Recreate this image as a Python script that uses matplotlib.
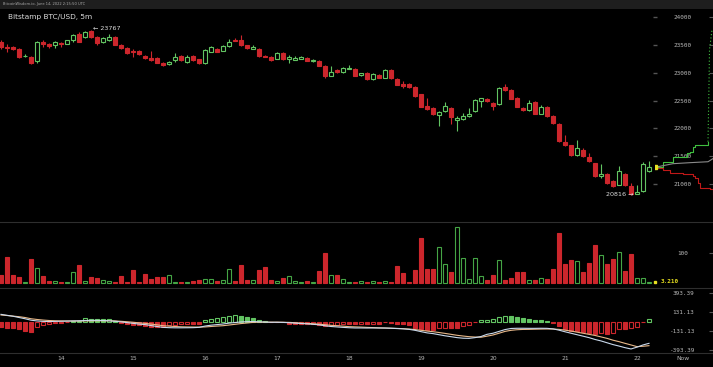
import matplotlib
matplotlib.use("Agg")
import matplotlib.pyplot as plt
import matplotlib.transforms as mtransforms
from matplotlib.patches import Rectangle
import numpy as np

# ---- data (2h candles, index 0 = leftmost) ----
opens = [23550, 23450, 23460, 23425, 23290, 23280, 23215, 23555, 23515, 23485,
         23530, 23520, 23575, 23695, 23630, 23745, 23635, 23540, 23585, 23635,
         23500, 23445, 23395, 23385, 23305, 23265, 23260, 23175, 23150, 23220,
         23300, 23195, 23300, 23235, 23175, 23375, 23425, 23395, 23480, 23590,
         23590, 23485, 23425, 23425, 23305, 23280, 23245, 23355, 23245, 23230,
         23245, 23260, 23200, 23205, 23120, 22945, 23045, 23005, 23065, 23065,
         22960, 22990, 22885, 22960, 22910, 23050, 22885, 22790, 22800, 22745,
         22615, 22400, 22370, 22240, 22310, 22370, 22150, 22170, 22220, 22310,
         22500, 22525, 22450, 22430, 22750, 22690, 22550, 22370, 22330, 22480,
         22265, 22385, 22225, 22075, 21760, 21700, 21520, 21610, 21490, 21380,
         21150, 21185, 21055, 20995, 21180, 20970, 20825, 20880, 21235]
highs = [23590, 23515, 23480, 23445, 23325, 23300, 23570, 23585, 23525, 23560,
         23545, 23585, 23695, 23735, 23750, 23767, 23650, 23630, 23690, 23650,
         23515, 23450, 23425, 23400, 23320, 23390, 23275, 23190, 23210, 23350,
         23310, 23310, 23318, 23245, 23415, 23480, 23445, 23495, 23605, 23615,
         23675, 23500, 23490, 23435, 23320, 23290, 23360, 23365, 23310, 23290,
         23290, 23275, 23245, 23220, 23140, 23120, 23060, 23095, 23140, 23075,
         22995, 23005, 22985, 22970, 23065, 23060, 22905, 22850, 22815, 22755,
         22625, 22540, 22385, 22305, 22480, 22385, 22220, 22275, 22365, 22520,
         22545, 22540, 22465, 22750, 22790, 22700, 22565, 22385, 22510, 22490,
         22420, 22395, 22240, 22090, 21880, 21710, 21790, 21645, 21555, 21390,
         21355, 21200, 21075, 21325, 21195, 21020, 20995, 21395, 21415]
lows = [23425, 23370, 23405, 23265, 23280, 23155, 23170, 23465, 23440, 23440,
        23455, 23505, 23540, 23545, 23615, 23620, 23495, 23525, 23570, 23490,
        23425, 23335, 23285, 23320, 23245, 23210, 23165, 23120, 23135, 23195,
        23215, 23180, 23210, 23155, 23155, 23360, 23360, 23380, 23460, 23560,
        23480, 23425, 23415, 23285, 23270, 23215, 23235, 23230, 23180, 23220,
        23235, 23205, 23185, 23110, 22905, 22935, 23000, 22995, 23055, 22930,
        22930, 22875, 22875, 22895, 22905, 22885, 22770, 22720, 22725, 22570,
        22375, 22330, 22240, 22050, 22300, 22080, 21955, 22150, 22210, 22290,
        22390, 22480, 22330, 22420, 22675, 22520, 22375, 22320, 22320, 22250,
        22255, 22205, 22085, 21765, 21690, 21510, 21510, 21485, 21405, 21135,
        21105, 21010, 20955, 20985, 20975, 20816, 20820, 20870, 21225]
closes = [23460, 23445, 23425, 23280, 23305, 23180, 23555, 23520, 23480, 23545,
          23510, 23575, 23675, 23555, 23735, 23635, 23535, 23615, 23640, 23495,
          23435, 23355, 23375, 23330, 23260, 23220, 23180, 23140, 23195, 23270,
          23230, 23280, 23228, 23170, 23400, 23450, 23375, 23480, 23555, 23570,
          23495, 23440, 23465, 23300, 23280, 23230, 23350, 23245, 23270, 23260,
          23270, 23215, 23230, 23120, 22945, 23010, 23010, 23080, 23085, 22940,
          22985, 22885, 22970, 22910, 23050, 22900, 22780, 22765, 22740, 22580,
          22390, 22345, 22255, 22290, 22400, 22205, 22185, 22225, 22250, 22510,
          22540, 22490, 22405, 22730, 22690, 22530, 22390, 22330, 22455, 22265,
          22385, 22215, 22100, 21775, 21700, 21520, 21650, 21505, 21415, 21145,
          21185, 21020, 20965, 21235, 20985, 20830, 20870, 21370, 21305]
volumes = [27, 86, 26, 20, 3, 80, 48, 23, 7, 7, 3, 3, 37, 60, 7, 20, 17, 9, 6, 2,
           21, 2, 43, 3, 30, 13, 20, 20, 27, 3, 3, 2, 6, 10, 12, 13, 7, 10, 47, 6,
           60, 10, 10, 43, 53, 10, 6, 17, 22, 6, 3, 7, 3, 40, 100, 27, 27, 12, 2, 3,
           6, 2, 6, 3, 6, 1, 56, 33, 1, 43, 150, 47, 47, 120, 62, 36, 186, 82, 12, 81,
           21, 10, 26, 76, 9, 16, 36, 36, 9, 10, 16, 13, 47, 167, 63, 77, 73, 36, 67, 126,
           92, 63, 80, 101, 40, 96, 17, 17, 3.21]
macd = [98, 85, 72, 55, 38, 18, 8, 2, 0, 2, 4, 6, 8, 10, 14, 16, 16, 14, 10, 4,
        -5, -15, -25, -35, -42, -55, -68, -80, -84, -86, -86, -85, -84, -80, -62, -50, -42, -34, -22, -14,
        -6, -2, 0, -4, -8, -10, -10, -12, -16, -22, -27, -32, -38, -45, -58, -68, -74, -80, -85, -88,
        -88, -89, -88, -89, -89, -92, -96, -100, -107, -120, -138, -155, -165, -180, -195, -207, -220, -228, -230, -220,
        -205, -175, -160, -135, -110, -95, -92, -92, -93, -93, -92, -93, -100, -118, -140, -160, -180, -200, -220, -245,
        -265, -290, -315, -335, -357, -375, -350, -320, -298]
signal = [89, 82, 74, 66, 55, 38, 28, 20, 14, 10, 8, 7, 7, 7, 8, 9, 10, 10, 10, 8,
          3, -3, -10, -18, -25, -35, -45, -57, -63, -68, -72, -74, -75, -76, -74, -68, -62, -57, -48, -38,
          -28, -20, -12, -9, -9, -9, -9, -10, -12, -16, -22, -26, -30, -36, -44, -52, -58, -63, -70, -73,
          -76, -80, -83, -86, -89, -91, -94, -98, -102, -110, -120, -130, -139, -150, -162, -175, -188, -198, -207, -212,
          -215, -200, -184, -160, -135, -120, -112, -108, -107, -105, -103, -102, -103, -107, -118, -130, -145, -160, -175, -190,
          -210, -230, -255, -275, -298, -320, -343, -338, -330]
hist = [-68, -82, -82, -105, -123, -137, -77, -45, -27, -14, -14, -5, 5, 10, 45, 41, 36, 36, 41, 5,
        -18, -27, -45, -50, -55, -73, -77, -77, -45, -41, -36, -27, -27, -27, 18, 36, 50, 64, 77, 86,
        77, 64, 50, 27, 5, -5, -5, -9, -36, -36, -27, -36, -27, -41, -55, -45, -41, -36, -36, -36,
        -27, -36, -27, -27, -5, -18, -27, -36, -45, -82, -100, -114, -114, -91, -82, -82, -82, -55, -45, -5,
        18, 27, 32, 64, 82, 82, 55, 45, 36, 27, 27, 5, -14, -59, -105, -123, -123, -137, -160, -168,
        -160, -168, -160, -100, -105, -91, -77, -5, 32]

day_labels = ["14", "15", "16", "17", "18", "19", "20", "21", "22"]
day_first_bar = 10          # bar index where the "14" label sits
bars_per_day = 12
price_ticks = [21000, 21500, 22000, 22500, 23000, 23500, 24000]
macd_ticks = [-393.39, -131.13, 131.13, 393.39]
high_label, low_label = 23767, 20816

# order book depth (cumulative size vs price)
ask_cum = [0, 80, 180, 320, 350, 380, 400, 530]
ask_px = [21305, 21404, 21494, 21565, 21583, 21673, 21709, 21762]
ask_far_cum = [530, 540, 545, 570]
ask_far_px = [21762, 22800, 23409, 23767]
mid_cum = [0, 180, 350, 530, 580]
mid_px = [21305, 21369, 21387, 21404, 21460]
bid_cum = [20, 80, 150, 280, 380, 400, 430, 450, 550, 580]
bid_px = [21300, 21261, 21208, 21190, 21154, 21118, 21029, 20939, 20921, 20830]

# ---- styling ----
W, H = 713, 367
BG = "black"
RED = "#cc262c"
GREEN = "#62c462"
VGREEN = "#45a545"
TXT = "#b8b8b8"
SEP = "#2e2e2e"
BAR_W = 0.68

o = np.array(opens, float)
c = np.array(closes, float)
hi = np.array(highs, float)
lo = np.array(lows, float)
idx = np.arange(len(o))
up = c >= o
xmin, xmax = -1 / 6, 712 / 6

fig = plt.figure(figsize=(W / 100, H / 100), dpi=100, facecolor=BG)


def px_axes(top, bottom, left=0, right=W):
    return fig.add_axes([left / W, 1 - bottom / H, (right - left) / W, (bottom - top) / H])


ax_p = px_axes(9, 221)
ax_v = px_axes(222, 288)
ax_m = px_axes(288, 353)

for ax in (ax_p, ax_v, ax_m):
    ax.set_facecolor(BG)
    ax.set_xlim(xmin, xmax)
    for s in ax.spines.values():
        s.set_visible(False)
    ax.tick_params(axis="x", bottom=False, labelbottom=False)

# header strip
fig.patches.append(Rectangle((0, 1 - 9 / H), 1, 9 / H, transform=fig.transFigure,
                             facecolor="#1e1e1e", edgecolor="none"))
fig.text(3 / W, 1 - 4.5 / H, "BitcoinWisdom.io, June 14, 2022 2:15:50 UTC",
         fontsize=2.6, color="#aaaaaa", va="center")
fig.text(8 / W, 1 - 17 / H, "Bitstamp BTC/USD, 5m", fontsize=5.3, color="#dddddd", va="center")

# ---- price panel ----
ax_p.set_ylim(20343, 24138)
body_lo = np.minimum(o, c)
body_hi = np.maximum(o, c)
col = np.where(up, GREEN, RED)
ax_p.vlines(idx, lo, body_lo, colors=col, lw=0.8)
ax_p.vlines(idx, body_hi, hi, colors=col, lw=0.8)
ax_p.bar(idx, np.maximum(body_hi - body_lo, 14), bottom=body_lo, width=BAR_W,
         facecolor=np.where(up, BG, RED), edgecolor=col, linewidth=0.8)

ax_p.text(15.4, high_label + 15, "\u2190 " + str(high_label), fontsize=4.6, color="#dddddd",
          va="center", ha="left")
ax_p.text(105.4, low_label, str(low_label) + " \u2192", fontsize=4.6, color="#dddddd",
          va="center", ha="right")

ax_p.yaxis.tick_right()
ax_p.set_yticks(price_ticks)
ax_p.tick_params(axis="y", direction="in", length=3, color="#555555", colors=TXT,
                 labelsize=4.3, pad=-21.6)
for lbl in ax_p.get_yticklabels():
    lbl.set_ha("center")
    lbl.set_family("DejaVu Sans Mono")
    lbl.set_color(TXT)
trans_p = mtransforms.blended_transform_factory(ax_p.transAxes, ax_p.transData)
ax_p.plot([655 / W] * len(price_ticks), price_ticks, ls="none", marker="_", ms=2.5,
          color="#555555", transform=trans_p)

# depth overlay
ax_d = px_axes(9, 221, left=655, right=W)
ax_d.set_ylim(ax_p.get_ylim())
ax_d.set_xlim(0, 580)
ax_d.axis("off")
ax_d.patch.set_alpha(0)
ax_d.plot(ask_cum, ask_px, color="#3fbf3f", lw=0.8, drawstyle="steps-post")
ax_d.plot(ask_far_cum, ask_far_px, color="#3fbf3f", lw=0.8, ls=(0, (1, 2)))
ax_d.plot(mid_cum, mid_px, color="#8a8a8a", lw=0.8)
ax_d.plot(bid_cum, bid_px, color="#c01818", lw=0.8, drawstyle="steps-post")
ax_d.plot([0], [closes[-1]], marker="s", ms=2.5, color="#e8e020", ls="none")

# ---- volume panel ----
ax_v.set_ylim(-17.7, 202)
ax_v.spines["top"].set_visible(True)
ax_v.spines["top"].set_color(SEP)
ax_v.bar(idx, volumes, width=BAR_W, facecolor=np.where(up, BG, RED),
         edgecolor=np.where(up, VGREEN, RED), linewidth=0.8)
ax_v.yaxis.tick_right()
ax_v.set_yticks([100])
ax_v.tick_params(axis="y", direction="in", length=3, color="#555555", labelsize=4.3, pad=-21.6)
for lbl in ax_v.get_yticklabels():
    lbl.set_ha("center")
    lbl.set_family("DejaVu Sans Mono")
    lbl.set_color(TXT)
trans_v = mtransforms.blended_transform_factory(ax_v.transAxes, ax_v.transData)
ax_v.plot([655 / W], [volumes[-1]], marker="s", ms=2, color="#e8e020", transform=trans_v)
ax_v.text(670 / W, volumes[-1] + 2, "%.3f" % volumes[-1], transform=trans_v, fontsize=4.3,
          color="#e8e020", ha="center", va="center", family="DejaVu Sans Mono",
          fontweight="bold")

# ---- MACD panel ----
ax_m.set_ylim(-430, 458)
for side in ("top", "bottom"):
    ax_m.spines[side].set_visible(True)
    ax_m.spines[side].set_color(SEP)
h = np.array(hist, float)
prev = np.concatenate([[h[0] + 1], h[:-1]])
hollow = h > prev
hcol = np.where(h >= 0, GREEN, RED)
ax_m.bar(idx, h, width=BAR_W, facecolor=np.where(hollow, BG, hcol), edgecolor=hcol, linewidth=0.8)
ax_m.plot(idx, signal, color="#e9b98a", lw=0.8)
ax_m.plot(idx, macd, color="#c9d9ec", lw=0.8)

ax_m.yaxis.tick_right()
ax_m.set_yticks(macd_ticks)
ax_m.set_yticklabels(["%.2f" % t for t in macd_ticks])
ax_m.tick_params(axis="y", direction="in", length=3, color="#555555", labelsize=4.3, pad=-21.6)
for lbl in ax_m.get_yticklabels():
    lbl.set_ha("center")
    lbl.set_family("DejaVu Sans Mono")
    lbl.set_color(TXT)

xt = [day_first_bar + bars_per_day * k for k in range(len(day_labels))] + [(683 - 1) / 6]
ax_m.set_xticks(xt)
ax_m.set_xticklabels(day_labels + ["Now"])
ax_m.tick_params(axis="x", bottom=True, labelbottom=True, length=0, pad=2.5,
                 labelsize=4.3, labelcolor=TXT)

fig.savefig("out.png", dpi=100, facecolor=BG)
